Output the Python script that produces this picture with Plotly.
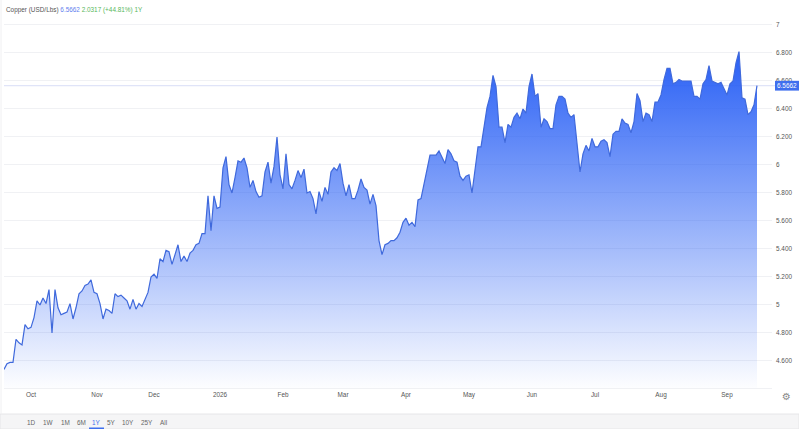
import plotly.graph_objects as go

W, H = 799, 429
L, R, T, B = 4, 772, 10, 388

series_name = "Copper (USD/Lbs)"
last_price = 6.5662
change_text = "2.0317 (+44.81%) 1Y"

prices = [
    4.54, 4.58, 4.59, 4.59, 4.755, 4.73, 4.715, 4.86, 4.83, 4.84, 4.91, 5.03, 5.00, 5.05, 5.01, 5.11, 4.80, 5.11,
    4.98, 4.93, 4.94, 4.95, 5.01, 4.90, 4.98, 5.08, 5.10, 5.14, 5.15, 5.18, 5.09, 5.08, 5.01, 4.90, 4.97, 4.96,
    4.94, 5.08, 5.06, 5.07, 5.05, 5.03, 4.97, 5.04, 4.97, 5.01, 4.99, 5.04,
    5.09, 5.20, 5.22, 5.19, 5.33, 5.31, 5.39, 5.38, 5.29, 5.36, 5.43, 5.31, 5.35, 5.31, 5.37, 5.39, 5.43, 5.44,
    5.51, 5.51, 5.78, 5.53, 5.78, 5.69, 5.70, 5.98, 6.06, 5.86, 5.80, 5.91, 6.03, 6.02, 6.05, 5.98, 5.84, 5.89,
    5.81, 5.77,
    5.78, 5.95, 6.02, 5.87, 5.99, 6.20, 5.93, 5.83, 6.08, 5.86, 5.83, 5.89, 5.96, 5.91, 5.97, 5.80, 5.81, 5.76,
    5.65, 5.81, 5.74, 5.84, 5.79, 5.95, 5.98, 5.96, 6.01, 5.87, 5.78, 5.86, 5.76, 5.76, 5.82, 5.90, 5.84, 5.82,
    5.72, 5.79, 5.71, 5.46, 5.36, 5.43, 5.44,
    5.46, 5.46, 5.48, 5.52, 5.59, 5.62, 5.57, 5.59, 5.56, 5.75, 5.76, 5.86, 5.98, 6.07, 6.07, 6.07, 6.10, 6.05,
    6.01, 6.11, 6.08, 6.03, 6.02, 5.92, 5.89, 5.92, 5.93, 5.80, 5.96, 6.13, 6.13, 6.26, 6.41, 6.49, 6.64, 6.56,
    6.27, 6.27, 6.16, 6.29, 6.27, 6.34, 6.37,
    6.33, 6.40, 6.37, 6.56, 6.65, 6.49, 6.51, 6.27, 6.33, 6.31, 6.26, 6.26, 6.43, 6.49, 6.49, 6.47, 6.37, 6.34,
    6.36, 6.14, 5.95, 6.08, 6.14, 6.10, 6.19, 6.13, 6.13, 6.17, 6.18, 6.16, 6.06, 6.22, 6.24, 6.24, 6.33, 6.30,
    6.29, 6.23, 6.31, 6.51, 6.46, 6.31, 6.37, 6.36, 6.31, 6.45, 6.45, 6.50, 6.61, 6.69, 6.69, 6.58, 6.59, 6.61,
    6.60, 6.60, 6.60, 6.60, 6.49, 6.49, 6.47, 6.58, 6.61, 6.71, 6.60, 6.59, 6.58, 6.59, 6.55, 6.50, 6.58, 6.60,
    6.73, 6.81, 6.48, 6.47, 6.36, 6.38, 6.43, 6.5662,
]
trading_days = list(range(len(prices)))

month_labels = ["Oct", "Nov", "Dec", "2026", "Feb", "Mar", "Apr", "May", "Jun", "Jul", "Aug", "Sep"]
month_positions = [9, 31, 50, 72, 93, 113, 134, 155, 176, 197, 219, 241]
price_ticks = [4.6, 4.8, 5, 5.2, 5.4, 5.6, 5.8, 6, 6.2, 6.4, 6.6, 6.8, 7]
price_labels = ["4.600", "4.800", "5", "5.200", "5.400", "5.600", "5.800", "6", "6.200", "6.400", "6.600", "6.800", "7"]
range_labels = ["1D", "1W", "1M", "6M", "1Y", "5Y", "10Y", "25Y", "All"]
range_centers = [31, 48, 65, 81, 96, 111, 128, 147, 163]


def px(x):
    return (x - L) / (R - L)


def py(y):
    return (B - y) / (B - T)


FONT = "Liberation Sans, Arial, sans-serif"
SIZE = 6.4
BLUE = "#3f6fee"

fig = go.Figure()
fig.add_trace(go.Scatter(
    x=trading_days, y=prices, mode="lines", fill="tozeroy",
    line=dict(color="#3f69dc", width=1.2),
    fillgradient=dict(
        type="vertical", start=4.407, stop=6.81,
        colorscale=[[0, "rgba(40,95,245,0.01)"], [1, "rgba(40,95,245,1)"]],
    ),
    hoverinfo="skip", showlegend=False,
))

shapes = [
    dict(type="rect", xref="paper", yref="paper", x0=px(0), x1=px(W), y0=py(H), y1=py(414),
         fillcolor="#f5f5f6", line=dict(color="#e6e6e8", width=1), layer="below"),
    dict(type="line", xref="paper", yref="paper", x0=px(1), x1=px(1), y0=py(414), y1=py(0),
         line=dict(color="#f0f0f2", width=1), layer="below"),
    dict(type="line", xref="paper", yref="y", x0=px(L), x1=px(775), y0=last_price, y1=last_price,
         line=dict(color="#d9ddf6", width=1), layer="below"),
    dict(type="rect", xref="paper", yref="paper", x0=px(89), x1=px(104), y0=py(429), y1=py(427.5),
         fillcolor=BLUE, line=dict(width=0)),
    dict(type="rect", xref="paper", yref="y", x0=px(775), x1=px(799), y0=last_price - 0.035, y1=last_price + 0.035,
         fillcolor=BLUE, line=dict(width=0)),
]

annotations = [
    dict(xref="paper", yref="paper", x=px(3.5), y=py(10), xanchor="left", yanchor="middle", showarrow=False,
         font=dict(family=FONT, size=SIZE, color="#555555"),
         text=f"{series_name} <span style='color:#5f80ee'>{last_price}</span> "
              f"<span style='color:#58b85c'>{change_text}</span>"),
    dict(xref="paper", yref="y", x=px(787), y=last_price, xanchor="center", yanchor="middle", showarrow=False,
         text=f"{last_price}", font=dict(family=FONT, size=SIZE, color="#ffffff")),
    dict(xref="paper", yref="paper", x=px(786), y=py(397), xanchor="center", yanchor="middle", showarrow=False,
         text="⚙", font=dict(family="DejaVu Sans", size=10, color="#8a8a8a")),
]
for label, center in zip(range_labels, range_centers):
    annotations.append(dict(
        xref="paper", yref="paper", x=px(center), y=py(422), xanchor="center", yanchor="middle", showarrow=False,
        text=label, font=dict(family=FONT, size=SIZE, color=BLUE if label == "1Y" else "#666666"),
    ))

fig.update_layout(
    width=W, height=H, autosize=False,
    margin=dict(l=L, r=W - R, t=T, b=H - B, pad=0),
    paper_bgcolor="#ffffff", plot_bgcolor="#ffffff",
    font=dict(family=FONT, size=SIZE, color="#555555"),
    showlegend=False, shapes=shapes, annotations=annotations,
    xaxis=dict(range=[0, (R - L) / 3], tickmode="array", tickvals=month_positions, ticktext=month_labels,
               showgrid=False, zeroline=False, showline=True, linecolor="#f0f1f4", linewidth=1, ticks="",
               tickfont=dict(family=FONT, size=SIZE, color="#555555"), fixedrange=True),
    yaxis=dict(side="right", range=[4.407, 7.107], tickmode="array", tickvals=price_ticks, ticktext=price_labels,
               showgrid=True, gridcolor="#f0f1f4", gridwidth=1, zeroline=False, showline=False, ticks="",
               ticklabelstandoff=3,
               tickfont=dict(family=FONT, size=SIZE, color="#555555"), fixedrange=True),
)

fig.write_html(
    "out.html",
    config={"displayModeBar": False},
    post_script="document.documentElement.style.overflow='hidden';document.body.style.margin='0';",
)
